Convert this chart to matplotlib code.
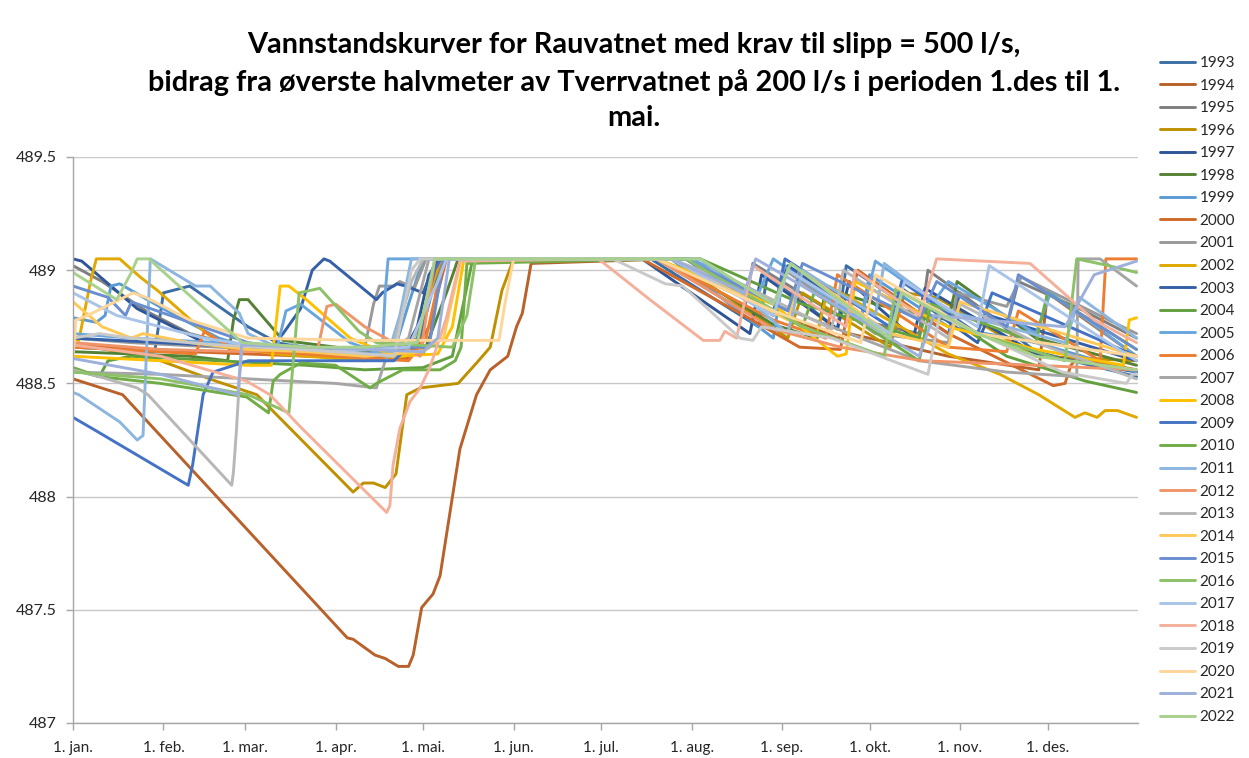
import matplotlib
matplotlib.use('Agg')
import matplotlib.pyplot as plt
from matplotlib.ticker import FuncFormatter

# ---------------- data (day of year, water level in m) ----------------
years = list(range(1993, 2023))
colors = ['#3A6EA5', '#B8612A', '#7F7F7F', '#BF9000', '#2F5597', '#548235',
          '#5B9BD5', '#D0692A', '#999999', '#E0A800', '#3560A8', '#62A03F',
          '#6AA6DE', '#ED7D31', '#A5A5A5', '#FFC000', '#4472C4', '#70AD47',
          '#8CB6E0', '#F0956A', '#B7B7B7', '#FFC857', '#6A8ED0', '#8CC168',
          '#A9C4E8', '#F4B09A', '#C9C9C9', '#FFD699', '#9DB0DC', '#A9D18E']
month_days = [0, 31, 59, 90, 120, 151, 181, 212, 243, 273, 304, 334]
month_labels = ['1. jan.', '1. feb.', '1. mar.', '1. apr.', '1. mai.', '1. jun.',
                '1. jul.', '1. aug.', '1. sep.', '1. okt.', '1. nov.', '1. des.']
y_ticks = [487, 487.5, 488, 488.5, 489, 489.5]

d_1993 = [0, 28, 31, 40, 60, 70, 90, 110, 118, 124, 127, 198, 235, 238, 262, 265, 300, 304, 330, 364.5]
v_1993 = [488.66, 488.64, 488.9, 488.93, 488.75, 488.68, 488.63, 488.62, 488.66, 488.95, 489.05, 489.05, 488.75, 488.98, 488.74, 489.02, 488.72, 488.9, 488.64, 488.53]

d_1994 = [0, 17, 94, 96, 103.5, 107, 111.5, 115, 116.6, 119.5, 123.4, 125.8, 132.6, 138.3, 143, 149, 152, 154, 157, 205, 240, 262, 266, 300, 331, 334, 364.5]
v_1994 = [488.52, 488.45, 487.376, 487.37, 487.30, 487.285, 487.25, 487.25, 487.30, 487.51, 487.57, 487.65, 488.21, 488.45, 488.56, 488.62, 488.75, 488.81, 489.03, 489.05, 488.82, 488.7, 488.72, 488.62, 488.56, 488.9, 488.62]

d_1995 = [0, 10, 25, 40, 55, 70, 90, 100, 122, 126, 200, 230, 233, 262, 290, 293, 320, 324, 345, 364.5]
v_1995 = [489.02, 488.95, 488.82, 488.72, 488.67, 488.66, 488.64, 488.64, 488.66, 489.05, 489.05, 488.82, 489.03, 488.8, 488.72, 489.0, 488.75, 488.95, 488.83, 488.7]

d_1996 = [0, 30, 49, 63, 96, 99.5, 103, 107, 110.7, 114.4, 119, 132, 138.3, 143, 147, 151, 205, 245, 250, 280, 285, 296, 330, 364.5]
v_1996 = [488.68, 488.6, 488.51, 488.45, 488.02, 488.06, 488.06, 488.04, 488.10, 488.45, 488.48, 488.50, 488.59, 488.66, 488.91, 489.05, 489.05, 488.7, 488.9, 488.66, 488.9, 488.88, 488.62, 488.6]

d_1997 = [0, 3, 13, 22, 45, 60, 90, 112, 118, 122, 126, 195, 232, 236, 262, 266, 288, 292, 330, 364.5]
v_1997 = [489.05, 489.04, 488.93, 488.83, 488.68, 488.65, 488.63, 488.61, 488.75, 488.98, 489.05, 489.05, 488.72, 488.98, 488.74, 488.95, 488.7, 488.92, 488.63, 488.55]

d_1998 = [0, 20, 40, 53, 55, 57, 60, 72, 90, 110, 120, 128, 132, 200, 225, 240, 255, 258, 275, 300, 303, 330, 364.5]
v_1998 = [488.64, 488.63, 488.62, 488.6, 488.78, 488.87, 488.87, 488.69, 488.66, 488.62, 488.63, 488.9, 489.05, 489.05, 488.88, 488.76, 488.70, 488.92, 488.85, 488.78, 488.95, 488.7, 488.58]

d_1999 = [0, 8, 11, 13, 16, 35, 50, 60, 75, 95, 110, 115, 120, 205, 240, 244, 270, 273, 300, 330, 364.5]
v_1999 = [488.79, 488.77, 488.80, 488.93, 488.94, 488.80, 488.70, 488.66, 488.65, 488.63, 488.64, 488.85, 489.05, 489.05, 488.7, 489.02, 488.78, 488.98, 488.75, 488.68, 488.55]

d_2000 = [0, 40, 80, 115, 122, 128, 195, 230, 249, 263, 266, 269, 300, 336, 340, 342, 344, 364.5]
v_2000 = [488.67, 488.64, 488.62, 488.61, 488.75, 489.05, 489.05, 488.8, 488.66, 488.65, 488.85, 489.0, 488.72, 488.49, 488.50, 488.58, 488.61, 488.56]

d_2001 = [0, 20, 50, 80, 100, 103, 105, 110, 112, 117, 121, 210, 240, 244, 275, 300, 303, 320, 325, 364.5]
v_2001 = [488.7, 488.68, 488.66, 488.64, 488.66, 488.85, 488.93, 488.93, 488.95, 488.92, 489.05, 489.05, 488.8, 489.0, 488.72, 488.68, 488.9, 488.84, 488.97, 488.72]

d_2002 = [0, 2, 6, 8, 16, 23, 29, 43, 52, 70, 100, 114, 120, 126, 200, 240, 255, 259, 300, 317.7, 331, 343.4, 346.8, 351, 353.7, 358, 364.5]
v_2002 = [488.7, 488.69, 488.95, 489.05, 489.05, 488.97, 488.91, 488.75, 488.66, 488.63, 488.6, 488.62, 488.8, 489.05, 489.05, 488.82, 488.72, 488.93, 488.63, 488.54, 488.45, 488.35, 488.37, 488.35, 488.38, 488.38, 488.35]

d_2003 = [0, 30, 60, 68, 72, 78, 82, 86, 88, 104, 106, 111, 114, 120, 124.6, 210, 240, 245, 280, 284, 310, 314, 364.5]
v_2003 = [488.70, 488.68, 488.66, 488.66, 488.72, 488.83, 489.0, 489.05, 489.04, 488.87, 488.90, 488.94, 488.93, 488.90, 489.05, 489.05, 488.82, 489.02, 488.72, 488.92, 488.68, 488.8, 488.6]

d_2004 = [0, 9, 12, 20, 50, 80, 100, 120, 130, 137, 215, 250, 290, 293, 320, 347, 364.5]
v_2004 = [488.56, 488.53, 488.6, 488.62, 488.6, 488.58, 488.56, 488.57, 488.62, 489.05, 489.05, 488.85, 488.7, 488.85, 488.62, 488.51, 488.46]

d_2005 = [0, 20, 50, 70, 73, 78, 95, 106, 107, 108, 212, 235, 240, 270, 275, 295, 300, 330, 335, 364.5]
v_2005 = [488.72, 488.7, 488.68, 488.66, 488.82, 488.85, 488.68, 488.63, 488.9, 489.05, 489.05, 488.9, 489.05, 488.78, 489.04, 488.86, 488.95, 488.72, 488.9, 488.62]

d_2006 = [0, 30, 42, 45, 55, 90, 115, 121, 127, 200, 240, 258, 262, 300, 320, 324, 352, 354, 364.5]
v_2006 = [488.66, 488.64, 488.63, 488.73, 488.65, 488.62, 488.6, 488.7, 489.05, 489.05, 488.78, 488.7, 488.98, 488.66, 488.64, 488.82, 488.6, 489.05, 489.05]

d_2007 = [0, 30, 60, 90, 104, 107, 110, 115, 122, 205, 240, 260, 290, 320, 344, 344.5, 352, 364.5]
v_2007 = [488.55, 488.54, 488.52, 488.5, 488.48, 488.6, 488.66, 488.7, 489.05, 489.05, 488.85, 488.75, 488.6, 488.55, 488.53, 489.05, 489.05, 488.93]

d_2008 = [0, 30, 60, 68, 71, 74, 80, 95, 110, 125, 130, 134, 200, 240, 258, 262, 265, 268, 300, 330, 360, 362, 364.5]
v_2008 = [488.62, 488.6, 488.58, 488.58, 488.93, 488.93, 488.87, 488.7, 488.62, 488.63, 488.75, 489.05, 489.05, 488.85, 488.66, 488.62, 488.63, 488.95, 488.75, 488.65, 488.58, 488.78, 488.79]

d_2009 = [0, 8, 39.5, 41, 44.6, 48, 60, 90, 110, 118, 124, 126, 210, 240, 244, 280, 284, 310, 315, 364.5]
v_2009 = [488.35, 488.29, 488.05, 488.14, 488.45, 488.55, 488.6, 488.6, 488.6, 488.7, 489.0, 489.05, 489.05, 488.8, 489.05, 488.75, 488.95, 488.72, 488.9, 488.62]

d_2010 = [0, 9, 30, 59.5, 67, 68.6, 71, 78, 90, 101.8, 104, 113, 125.8, 131, 133, 135, 205, 250, 254, 290, 294, 330, 334, 364.5]
v_2010 = [488.57, 488.53, 488.5, 488.44, 488.37, 488.51, 488.54, 488.59, 488.58, 488.48, 488.5, 488.56, 488.56, 488.6, 488.66, 489.03, 489.05, 488.75, 488.9, 488.6, 488.85, 488.68, 488.9, 488.65]

d_2011 = [0, 2, 16, 22, 24, 26.5, 33, 42, 47, 57, 60, 70, 90, 108, 112, 116, 215, 245, 250, 275, 278, 300, 340, 345, 364.5]
v_2011 = [488.46, 488.45, 488.33, 488.25, 488.27, 489.05, 489.0, 488.93, 488.93, 488.81, 488.72, 488.66, 488.63, 488.63, 488.8, 489.05, 489.05, 488.72, 489.0, 488.8, 489.03, 488.82, 488.68, 488.88, 488.7]

d_2012 = [0, 30, 60, 84, 87, 90, 100, 110, 119, 124, 200, 240, 263, 291, 330, 364.5]
v_2012 = [488.68, 488.65, 488.64, 488.66, 488.84, 488.85, 488.75, 488.68, 488.62, 489.05, 489.05, 488.74, 488.66, 488.6, 488.58, 488.56]

d_2013 = [0, 9, 22, 25.7, 54.4, 55, 56, 57, 58, 80, 100, 110, 116, 120, 205, 235, 260, 264, 300, 304, 330, 364.5]
v_2013 = [488.56, 488.53, 488.48, 488.45, 488.05, 488.11, 488.29, 488.51, 488.68, 488.66, 488.65, 488.68, 488.95, 489.05, 489.05, 488.9, 488.74, 489.0, 488.7, 488.85, 488.68, 488.52]

d_2014 = [0, 10, 20, 24, 40, 60, 80, 100, 120, 127, 133, 205, 245, 249, 280, 300, 304, 364.5]
v_2014 = [488.86, 488.75, 488.7, 488.72, 488.68, 488.65, 488.64, 488.62, 488.64, 488.7, 489.05, 489.05, 488.78, 489.0, 488.72, 488.66, 488.86, 488.62]

d_2015 = [0, 12, 18, 20, 40, 60, 70, 75, 90, 100, 122, 127, 210, 245, 250, 290, 296, 320, 324, 364.5]
v_2015 = [488.93, 488.88, 488.80, 488.86, 488.77, 488.68, 488.66, 488.67, 488.64, 488.66, 488.66, 489.05, 489.05, 488.82, 489.03, 488.78, 488.95, 488.75, 488.98, 488.65]

d_2016 = [0, 30, 60, 74, 75.5, 77.5, 84.6, 98, 104, 130, 135, 138, 210, 250, 278, 282, 310, 340, 344, 355, 364.5]
v_2016 = [488.55, 488.52, 488.45, 488.37, 488.6, 488.9, 488.92, 488.73, 488.68, 488.66, 488.8, 489.05, 489.05, 488.75, 488.62, 488.92, 488.72, 488.6, 489.05, 489.02, 488.99]

d_2017 = [0, 15, 30, 45, 60, 90, 115, 125, 128, 205, 240, 245, 280, 285, 310, 314, 364.5]
v_2017 = [488.9, 488.8, 488.75, 488.7, 488.67, 488.64, 488.66, 488.95, 489.05, 489.05, 488.8, 489.0, 488.72, 488.95, 488.75, 489.02, 488.6]

d_2018 = [0, 30, 59.5, 67.5, 77.8, 107.5, 108.6, 109.7, 112, 115.5, 119, 122.3, 128, 132.6, 180, 185, 197.7, 216, 221.7, 223.4, 227.4, 230, 233, 265, 268, 290, 296, 328, 350, 364.5]
v_2018 = [488.67, 488.62, 488.51, 488.45, 488.31, 487.93, 487.96, 488.14, 488.30, 488.42, 488.48, 488.57, 488.79, 489.04, 489.05, 489.0, 488.87, 488.69, 488.69, 488.73, 488.70, 488.85, 489.02, 488.75, 489.0, 488.8, 489.05, 489.03, 488.78, 488.68]

d_2019 = [0, 9, 20, 50, 90, 110, 116, 119, 185, 203, 209, 228.6, 233, 236, 260, 293, 297, 339, 361, 363, 364.5]
v_2019 = [488.7, 488.72, 488.7, 488.67, 488.64, 488.62, 489.0, 489.05, 489.05, 488.94, 488.93, 488.70, 488.69, 488.75, 488.7, 488.54, 488.8, 488.55, 488.50, 488.54, 488.54]

d_2020 = [0, 1, 5, 20.6, 25, 40, 60, 100, 146, 148, 151, 200, 240, 270, 275, 310, 364.5]
v_2020 = [488.61, 488.78, 488.8, 488.9, 488.88, 488.78, 488.7, 488.69, 488.69, 488.85, 489.05, 489.05, 488.82, 488.68, 488.98, 488.72, 488.62]

d_2021 = [0, 30, 56.5, 57.8, 80, 100, 120, 125, 129, 205, 230, 234, 270, 290, 295, 340, 350, 364.5]
v_2021 = [488.61, 488.54, 488.45, 488.67, 488.66, 488.65, 488.64, 488.7, 489.05, 489.05, 488.9, 489.05, 488.78, 488.62, 488.8, 488.75, 488.98, 489.04]

d_2022 = [0, 15, 20, 22, 26, 58, 80, 100, 118, 124, 215, 240, 246, 280, 284, 310, 330, 364.5]
v_2022 = [488.99, 488.87, 488.99, 489.05, 489.05, 488.68, 488.66, 488.66, 488.68, 489.05, 489.05, 488.85, 489.03, 488.7, 488.9, 488.72, 488.62, 488.56]

series = [(d_1993, v_1993), (d_1994, v_1994), (d_1995, v_1995), (d_1996, v_1996),
          (d_1997, v_1997), (d_1998, v_1998), (d_1999, v_1999), (d_2000, v_2000),
          (d_2001, v_2001), (d_2002, v_2002), (d_2003, v_2003), (d_2004, v_2004),
          (d_2005, v_2005), (d_2006, v_2006), (d_2007, v_2007), (d_2008, v_2008),
          (d_2009, v_2009), (d_2010, v_2010), (d_2011, v_2011), (d_2012, v_2012),
          (d_2013, v_2013), (d_2014, v_2014), (d_2015, v_2015), (d_2016, v_2016),
          (d_2017, v_2017), (d_2018, v_2018), (d_2019, v_2019), (d_2020, v_2020),
          (d_2021, v_2021), (d_2022, v_2022)]

title_lines = ['Vannstandskurver for Rauvatnet med krav til slipp = 500 l/s,',
               'bidrag fra øverste halvmeter av Tverrvatnet på 200 l/s i perioden 1.des til 1.',
               'mai.']

# ---------------- figure ----------------
W, H = 1249, 758
fig = plt.figure(figsize=(W / 100, H / 100), dpi=100)
fig.patch.set_facecolor('white')
ax = fig.add_axes([73 / W, 1 - 723 / H, (1138 - 73) / W, (723 - 157) / H])

FONT = 'Lato'
txt_color = '#262626'

for yr, (d, v), c in zip(years, series, colors):
    ax.plot(d, v, color=c, lw=2.1, label=str(yr), solid_joinstyle='round',
            solid_capstyle='round')

ax.set_xlim(0, 365)
ax.set_ylim(487, 489.5)
ax.set_yticks(y_ticks)
ax.yaxis.set_major_formatter(FuncFormatter(lambda v, p: f'{v:g}'))
ax.set_xticks(month_days)
ax.set_xticklabels(month_labels)

ax.grid(axis='y', color='#C8C8C8', lw=1.0)
ax.set_axisbelow(True)
for s in ['top', 'right']:
    ax.spines[s].set_visible(False)
for s in ['left', 'bottom']:
    ax.spines[s].set_color('#A6A6A6')
    ax.spines[s].set_linewidth(1.0)
ax.tick_params(axis='y', length=5, width=1.0, color='#A6A6A6', pad=7,
               labelsize=11.5, labelcolor=txt_color)
ax.tick_params(axis='x', length=5, width=1.0, color='#A6A6A6', pad=8,
               labelsize=11, labelcolor=txt_color)
for lab in ax.get_xticklabels() + ax.get_yticklabels():
    lab.set_fontfamily(FONT)

# title (three centred lines)
for line, ypx in zip(title_lines, [45, 83, 118]):
    fig.text(634 / W, 1 - ypx / H, line, ha='center', va='center',
             fontsize=20.8, fontweight='bold', family=FONT, color='black')

# legend
leg = ax.legend(loc='center left', bbox_to_anchor=(1160 / W, 1 - 390 / H),
                bbox_transform=fig.transFigure, frameon=False,
                prop={'family': FONT, 'size': 11}, handlelength=2.3,
                handletextpad=0.3, labelspacing=0.56, borderaxespad=0,
                borderpad=0)
for t in leg.get_texts():
    t.set_color(txt_color)

fig.savefig('out.png', dpi=100)
